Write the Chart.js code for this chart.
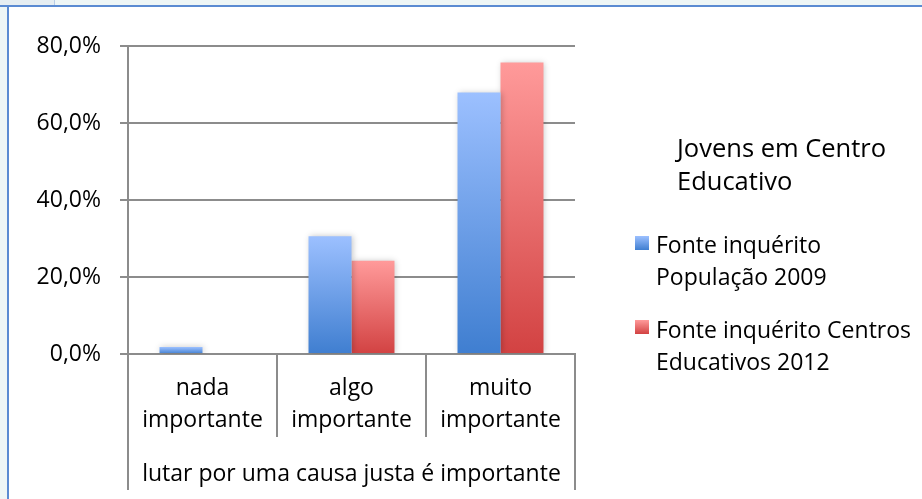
<!DOCTYPE html>
<html lang="pt">
<head>
<meta charset="utf-8">
<script src="https://cdn.jsdelivr.net/npm/chart.js@4.4.1/dist/chart.umd.min.js"></script>
<style>
  html, body { margin: 0; padding: 0; background: #fff; }
  #wrap { position: relative; width: 922px; height: 499px; overflow: hidden; background: #fff; }
  #chart { position: absolute; left: 0; top: 0; }
  .band-top { position: absolute; left: 0; top: 0; width: 922px; height: 5px; background: #eef6f6; }
  .tab { position: absolute; left: 0; top: 0; width: 54px; height: 5px; background: #e6eef2; border-right: 1px solid #b9cde6; }
  .line-top { position: absolute; left: 0; top: 5px; width: 922px; height: 2px; background: #5b8bd2; }
  .band-left { position: absolute; left: 0; top: 7px; width: 7px; height: 492px; background: #eef6f6; }
  .line-left { position: absolute; left: 7px; top: 5px; width: 2px; height: 494px; background: #5b8bd2; }
</style>
</head>
<body>
<div id="wrap">
  <canvas id="chart" width="922" height="499"></canvas>
  <div class="band-top"></div>
  <div class="tab"></div>
  <div class="line-top"></div>
  <div class="band-left"></div>
  <div class="line-left"></div>
</div>
<script>
// ---- data ----
const categories = [['nada', 'importante'], ['algo', 'importante'], ['muito', 'importante']];
const groupLabel = 'lutar por uma causa justa é importante';
const legendTitle = ['Jovens em Centro', 'Educativo'];
const seriesNames = [['Fonte inquérito', 'População 2009'], ['Fonte inquérito Centros', 'Educativos 2012']];
const pop2009 = [1.8, 30.6, 67.9];
const centros2012 = [0, 24.2, 75.7];
const yMax = 80;
const yStep = 20;

const FONT = '"Open Sans", "Liberation Sans", sans-serif';
const GRID = '#8c8c8c';
const BLUE = ['#9cc0ff', '#3f7ed0'];
const RED = ['#ff9a9a', '#d24242'];

// vertical gradient per bar, light at the top, dark at the base
function barFill(colors) {
  return (ctx) => {
    const chart = ctx.chart;
    if (!chart.chartArea || ctx.type !== 'data') return colors[1];
    const y = chart.scales.y;
    const top = y.getPixelForValue(ctx.raw);
    const base = y.getPixelForValue(0);
    if (base - top < 1) return colors[0];
    const g = chart.ctx.createLinearGradient(0, top, 0, base);
    g.addColorStop(0, colors[0]);
    g.addColorStop(1, colors[1]);
    return g;
  };
}

const barShadow = {
  id: 'barShadow',
  beforeDatasetsDraw(chart) {
    const c = chart.ctx;
    c.save();
    c.shadowColor = 'rgba(0,0,0,0.22)';
    c.shadowBlur = 6;
    c.shadowOffsetX = 1;
    c.shadowOffsetY = 0;
  },
  afterDatasetsDraw(chart) {
    chart.ctx.restore();
  }
};

// outer brackets + group label under the categories, and the side legend
const extras = {
  id: 'extras',
  afterDraw(chart) {
    const { ctx, chartArea } = chart;
    ctx.save();
    ctx.strokeStyle = GRID;
    ctx.lineWidth = 2;
    [chartArea.left, chartArea.right].forEach(x => {
      ctx.beginPath();
      ctx.moveTo(x, chartArea.bottom);
      ctx.lineTo(x, 490);
      ctx.stroke();
    });

    ctx.fillStyle = '#000';
    ctx.textBaseline = 'alphabetic';
    ctx.textAlign = 'center';
    ctx.font = '23px ' + FONT;
    ctx.fillText(groupLabel, (chartArea.left + chartArea.right) / 2, 481);

    ctx.textAlign = 'left';
    ctx.font = '25.5px ' + FONT;
    legendTitle.forEach((t, i) => ctx.fillText(t, 677, 157 + i * 33));

    ctx.font = '23px ' + FONT;
    const items = [
      { colors: BLUE, y: 253, box: 236 },
      { colors: RED, y: 338, box: 320 }
    ];
    items.forEach((it, i) => {
      const g = ctx.createLinearGradient(0, it.box, 0, it.box + 14);
      g.addColorStop(0, it.colors[0]);
      g.addColorStop(1, it.colors[1]);
      ctx.fillStyle = g;
      ctx.fillRect(635, it.box, 14, 14);
      ctx.fillStyle = '#000';
      seriesNames[i].forEach((t, j) => ctx.fillText(t, 656, it.y + j * 32));
    });
    ctx.restore();
  }
};

new Chart(document.getElementById('chart'), {
  type: 'bar',
  data: {
    labels: categories,
    datasets: [
      {
        label: seriesNames[0].join(' '),
        data: pop2009,
        backgroundColor: barFill(BLUE),
        borderWidth: 0
      },
      {
        label: seriesNames[1].join(' '),
        data: centros2012,
        backgroundColor: barFill(RED),
        borderWidth: 0
      }
    ]
  },
  options: {
    responsive: false,
    animation: false,
    events: [],
    categoryPercentage: 0.577,
    barPercentage: 1.0,
    layout: { padding: { left: 0, right: 347, top: 46, bottom: 0 } },
    plugins: {
      legend: { display: false },
      tooltip: { enabled: false }
    },
    scales: {
      x: {
        offset: true,
        grid: {
          offset: true,
          drawOnChartArea: false,
          tickLength: 83,
          color: GRID,
          lineWidth: 2
        },
        border: { display: true, color: GRID, width: 2 },
        ticks: {
          color: '#000',
          padding: -65,
          maxRotation: 0,
          autoSkip: false,
          font: { family: FONT, size: 23, lineHeight: '32px' }
        },
        afterFit(scale) { scale.height = 145; }
      },
      y: {
        min: 0,
        max: yMax,
        grid: { color: GRID, lineWidth: 2, tickLength: 8 },
        border: { display: true, color: GRID, width: 2 },
        ticks: {
          stepSize: yStep,
          color: '#000',
          padding: 19,
          font: { family: FONT, size: 23 },
          callback: v => v.toFixed(1).replace('.', ',') + '%'
        },
        afterFit(scale) { scale.width = 128; }
      }
    }
  },
  plugins: [barShadow, extras]
});
</script>
</body>
</html>
